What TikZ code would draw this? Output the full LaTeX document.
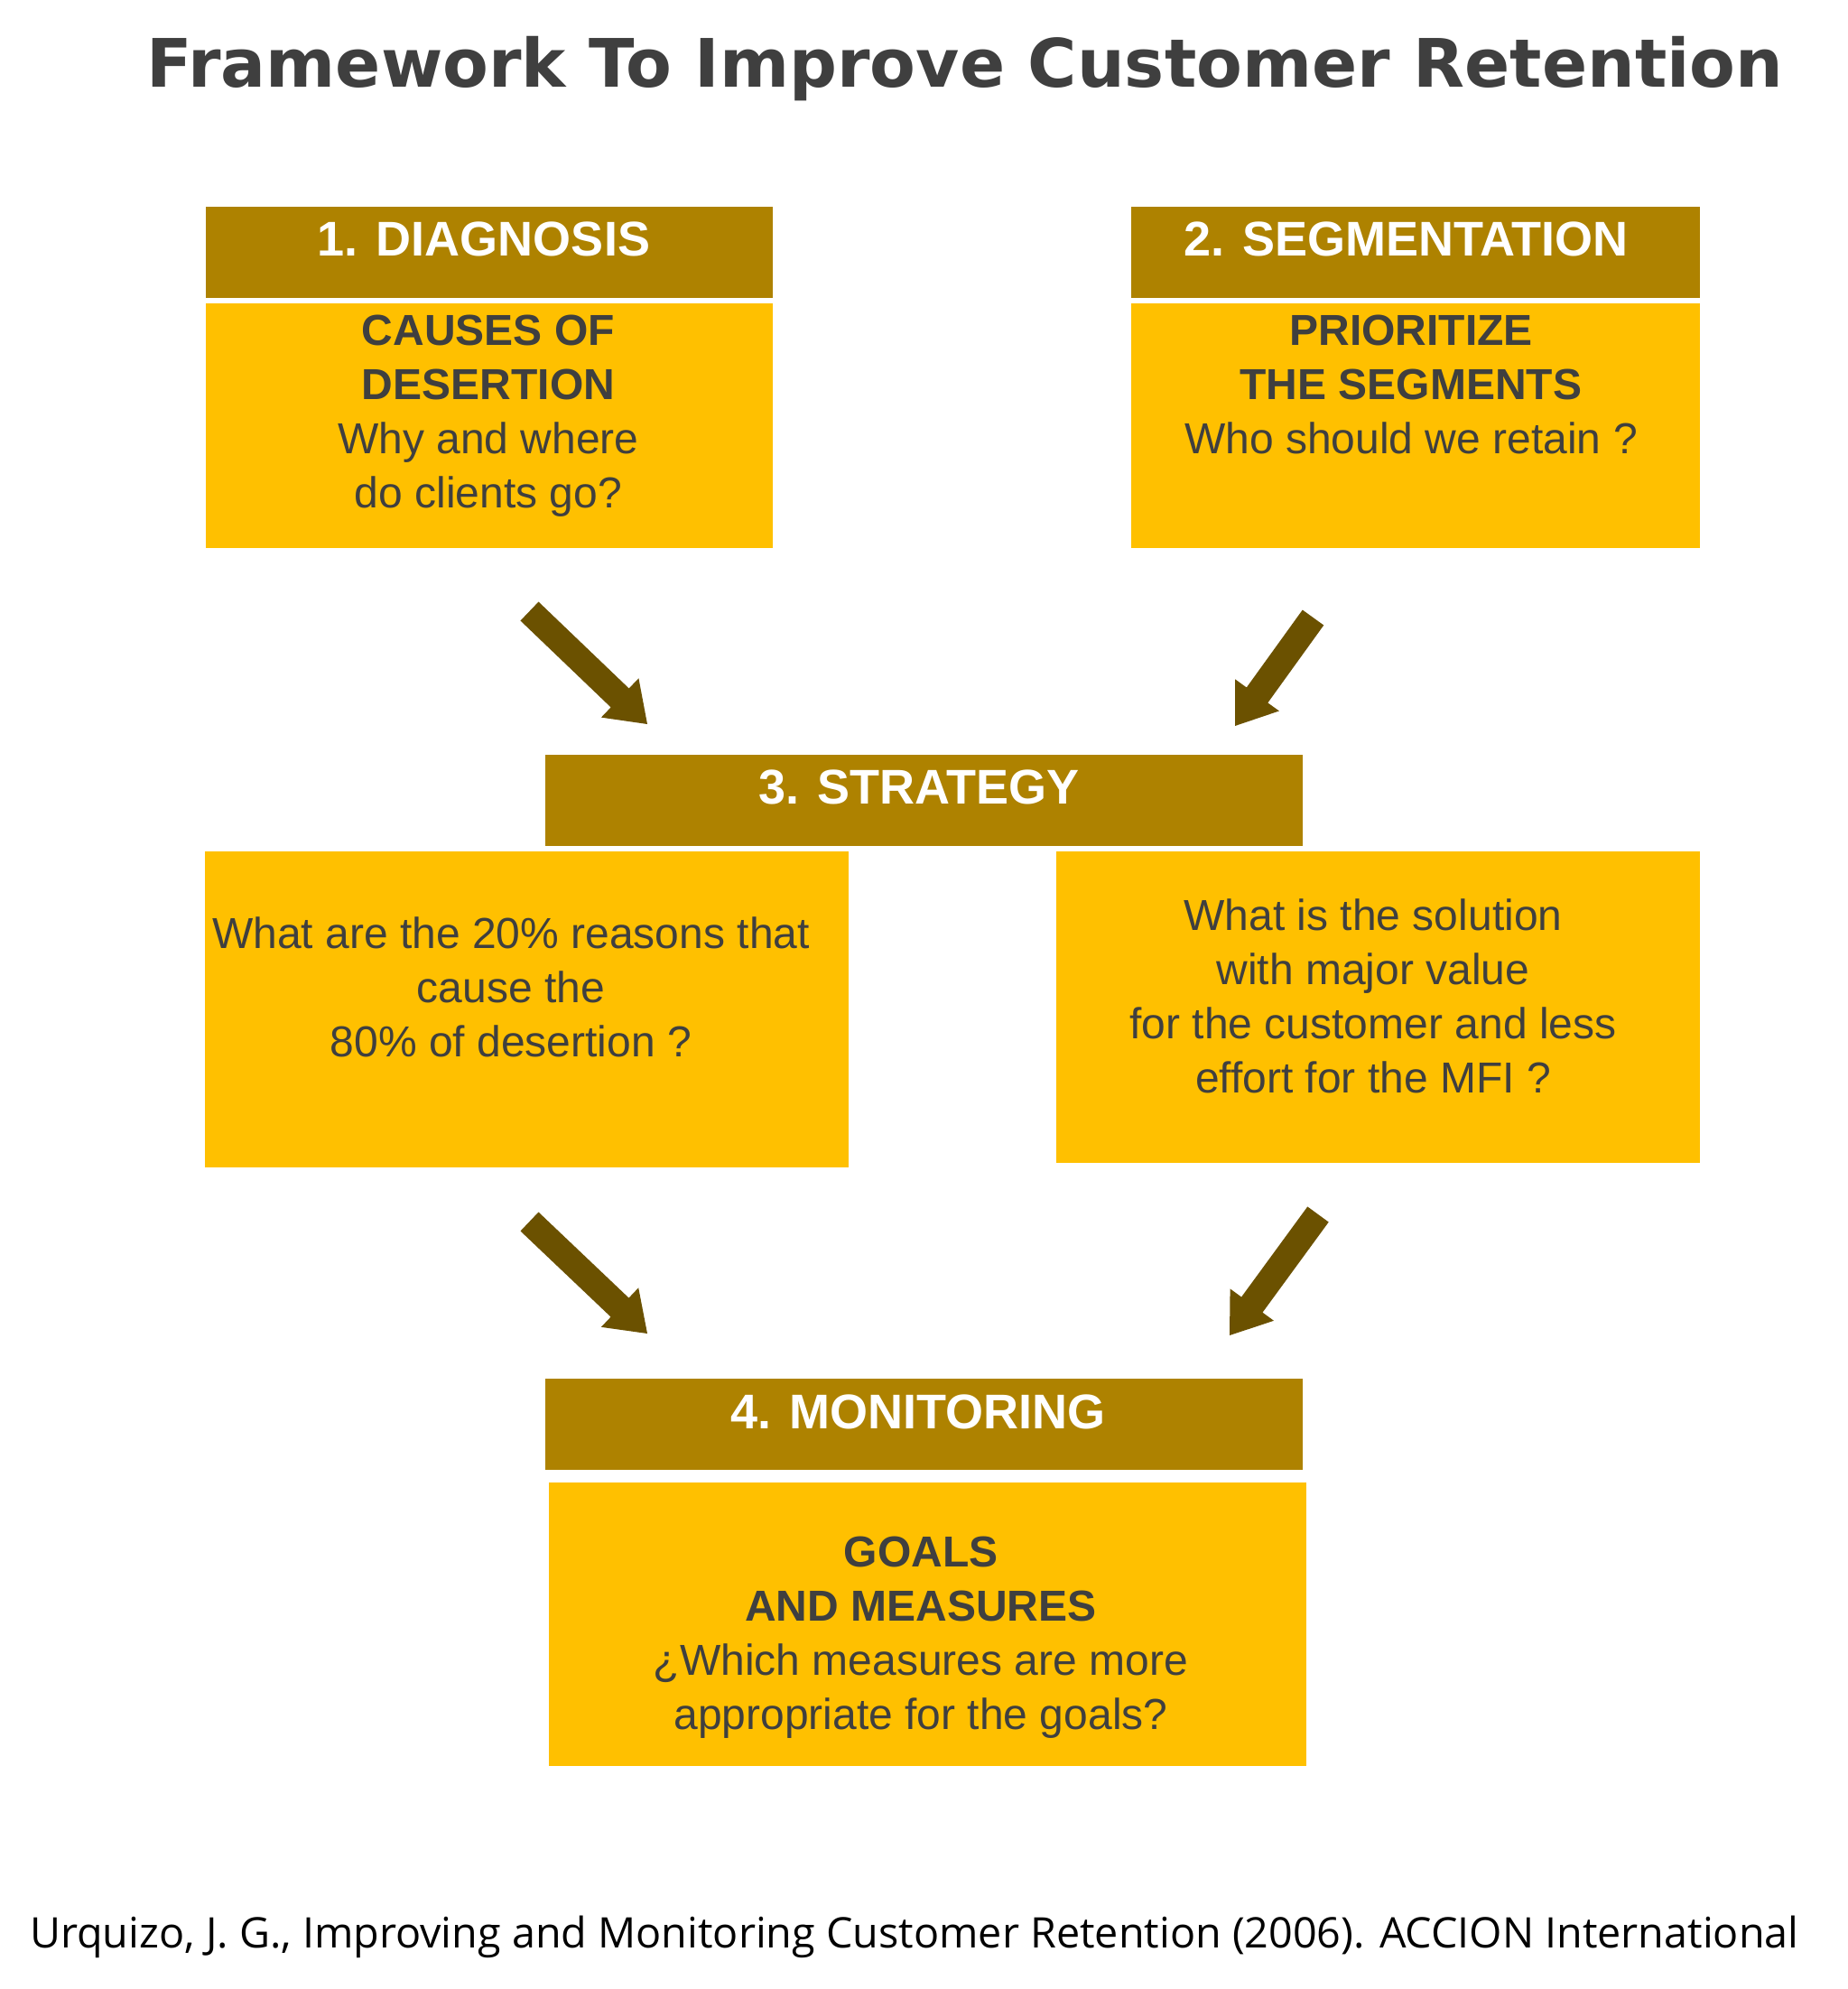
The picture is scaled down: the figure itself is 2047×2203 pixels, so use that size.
\documentclass[tikz,border=0pt]{standalone}
\usepackage{fontspec}
\setmainfont{Liberation Sans}
\newfontfamily\titlefont{DejaVu Sans}
\newfontfamily\footfont{Open Sans}
\usetikzlibrary{calc}
\definecolor{hdr}{HTML}{AE8200}
\definecolor{bdy}{HTML}{FFC000}
\definecolor{txt}{HTML}{3F3F3F}
\definecolor{arr}{HTML}{6B5100}
\newcommand\blockarrow[2]{%
  \path ($(#2)!42pt!(#1)$) coordinate (hb);
  \fill[arr] ($(#1)!14.5pt!90:(#2)$) -- ($(hb)!14.5pt!90:(#2)$) -- ($(hb)!30pt!90:(#2)$) -- (#2)
    -- ($(hb)!30pt!-90:(#2)$) -- ($(hb)!14.5pt!-90:(#2)$) -- ($(#1)!14.5pt!-90:(#2)$) -- cycle;}
\begin{document}
\begin{tikzpicture}[x=1pt,y=-1pt,
  hdrbox/.style={fill=hdr, draw=none, inner sep=0pt, outer sep=0pt, anchor=north west},
  bdybox/.style={fill=bdy, draw=none, inner sep=0pt, outer sep=0pt, anchor=north west},
  hdrtext/.style={inner sep=0pt, anchor=base, text=white, font=\bfseries\fontsize{54}{66}\selectfont},
  bdytext/.style={inner sep=0pt, anchor=base, text=txt, align=center, font=\fontsize{48}{60}\selectfont}]
\useasboundingbox[fill=white] (0,0) rectangle (2047,2203);

% title
\node[inner sep=0pt, anchor=base, text=txt, font=\titlefont\bfseries\fontsize{74}{80}\selectfont] (title) at (1069,96) {Framework To Improve Customer Retention};

% box 1
\node[hdrbox, minimum width=628pt, minimum height=101pt] (h1) at (228,229) {};
\node[bdybox, minimum width=628pt, minimum height=271pt] (b1) at (228,336) {};
\node[hdrtext] (h1t) at (536,283) {1. DIAGNOSIS};
\node[bdytext] (b1t) at (541,562) {\textbf{CAUSES OF}\\\textbf{DESERTION}\\Why and where\\do clients go?};

% box 2
\node[hdrbox, minimum width=630pt, minimum height=101pt] (h2) at (1253,229) {};
\node[bdybox, minimum width=630pt, minimum height=271pt] (b2) at (1253,336) {};
\node[hdrtext] (h2t) at (1557,283) {2. SEGMENTATION};
\node[bdytext] (b2t) at (1563,502) {\textbf{PRIORITIZE}\\\textbf{THE SEGMENTS}\\Who should we retain ?};

% box 3
\node[hdrbox, minimum width=839pt, minimum height=101pt] (h3) at (604,836) {};
\node[hdrtext] (h3t) at (1018,890) {3. STRATEGY};
\node[bdybox, minimum width=713pt, minimum height=350pt] (b3l) at (227,943) {};
\node[bdybox, minimum width=713pt, minimum height=345pt] (b3r) at (1170,943) {};
\node[bdytext] (b3lt) at (566,1170) {What are the 20\% reasons that\\cause the\\80\% of desertion ?};
\node[bdytext] (b3rt) at (1521,1210) {What is the solution\\with major value\\for the customer and less\\effort for the MFI ?};

% box 4
\node[hdrbox, minimum width=839pt, minimum height=101pt] (h4) at (604,1527) {};
\node[bdybox, minimum width=839pt, minimum height=314pt] (b4) at (608,1642) {};
\node[hdrtext] (h4t) at (1017,1582) {4. MONITORING};
\node[bdytext] (b4t) at (1020,1915) {\textbf{GOALS}\\\textbf{AND MEASURES}\\¿Which measures are more\\appropriate for the goals?};

% arrows
\coordinate (a1s) at (586.5,677);  \coordinate (a1e) at (717,802);
\coordinate (a2s) at (1454.5,684); \coordinate (a2e) at (1368,804);
\coordinate (a3s) at (586.5,1353); \coordinate (a3e) at (717,1477);
\coordinate (a4s) at (1460,1345);  \coordinate (a4e) at (1362,1479);
\blockarrow{a1s}{a1e}
\blockarrow{a2s}{a2e}
\blockarrow{a3s}{a3e}
\blockarrow{a4s}{a4e}

% source
\node[inner sep=0pt, anchor=base west, text=black, font=\footfont\fontsize{46.7}{50}\selectfont] (src) at (33,2157) {Urquizo, J. G., Improving and Monitoring Customer Retention (2006). ACCION International};
\end{tikzpicture}
\end{document}
